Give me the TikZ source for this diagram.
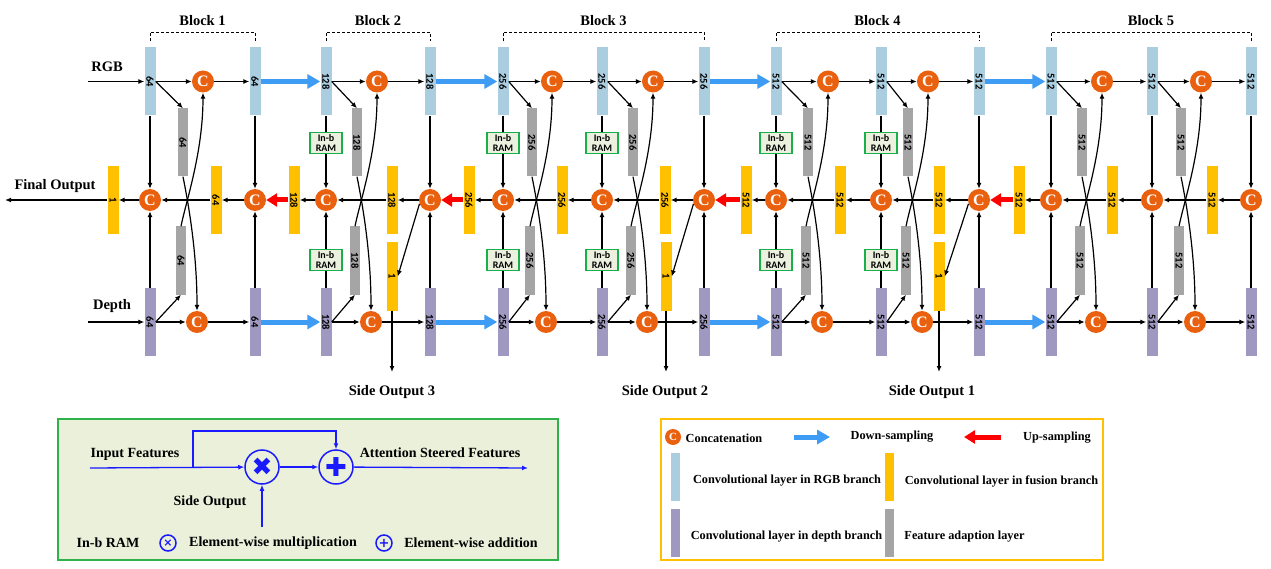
\documentclass[tikz,border=0pt]{standalone}
\usepackage{fontspec}
\setmainfont{Liberation Serif}
\newfontfamily\numfont{Carlito}
\newfontfamily\symfont{DejaVu Sans}
\usepackage{graphicx}
\usetikzlibrary{arrows.meta}
\usetikzlibrary{calc}

\definecolor{rgbc}{HTML}{AACDE0}
\definecolor{depc}{HTML}{9F99C1}
\definecolor{grayc}{HTML}{A5A5A5}
\definecolor{fuc}{HTML}{FFC000}
\definecolor{catc}{HTML}{E9600E}
\definecolor{dsc}{HTML}{3F9CF5}
\definecolor{ramg}{HTML}{19B04C}
\definecolor{ramf}{HTML}{EBF1DE}
\definecolor{lgrn}{HTML}{2DB34A}
\definecolor{lfill}{HTML}{EAF0DA}
\definecolor{lblue}{HTML}{1A1AFF}

\tikzset{
  bar/.style={inner sep=0pt, minimum width=11pt, minimum height=68pt, font=\numfont\bfseries\fontsize{10.5}{11}\selectfont},
  rgbbar/.style={bar, fill=rgbc},
  depbar/.style={bar, fill=depc},
  grbar/.style={bar, fill=grayc, minimum width=10pt},
  fubar/.style={bar, fill=fuc},
  concat/.style={circle, fill=catc, text=white, minimum size=22pt, inner sep=0pt, font=\bfseries\fontsize{16}{16}\selectfont},
  ram/.style={draw=ramg, fill=ramf, line width=1.5pt, minimum width=32pt, minimum height=21pt, inner sep=0pt, align=center, font=\numfont\bfseries\fontsize{10}{9.5}\selectfont},
  arr/.style={-{Latex[length=6pt,width=5pt]}, line width=1.2pt},
  dsarr/.style={dsc, line width=5pt, -{Triangle[length=13pt,width=14pt]}},
  usarr/.style={red, line width=5pt, -{Triangle[length=11pt,width=13pt]}},
  brk/.style={line width=0.8pt, dash pattern=on 3pt off 2pt},
  txt/.style={font=\bfseries\fontsize{14.5}{16}\selectfont},
  ltxt/.style={font=\bfseries\fontsize{14}{16}\selectfont},
  rtxt/.style={font=\bfseries\fontsize{12.3}{14}\selectfont},
  op/.style={circle, draw=lblue, line width=1.5pt, text=lblue, inner sep=0pt},
  barr/.style={lblue, line width=1.3pt, -{Latex[length=6pt,width=5pt]}}
}

\begin{document}
\begin{tikzpicture}[x=1pt, y=-1pt]
  \useasboundingbox[fill=white] (0,0) rectangle (1271,569);

  % columns: RGB bar, depth bar, fusion C
  \foreach \i/\x/\lb in {1/150/64, 2/255/64, 3/326/128, 4/430/128, 5/503/256, 6/602/256, 7/704/256,
                         8/776/512, 9/881/512, 10/979/512, 11/1051/512, 12/1152/512, 13/1251/512}{
    \node[rgbbar] (r\i) at (\x,81.5) {\rotatebox{-90}{\lb}};
    \node[depbar] (d\i) at (\x,322) {\rotatebox{-90}{\lb}};
    \node[concat] (f\i) at (\x,200) {C};
  }

  % vertical links, with and without In-b RAM
  \foreach \i in {1,2,4,7,10,11,12,13}{
    \draw[arr] (r\i) -- (f\i);
    \draw[arr] (d\i) -- (f\i);
  }
  \foreach \i in {3,5,6,8,9}{
    \node[ram] (ra\i) at ($(r\i)+(0,61.5)$) {In-b\\RAM};
    \node[ram] (rb\i) at ($(d\i)+(0,-62)$) {In-b\\RAM};
    \draw[line width=1.2pt] (r\i) -- (ra\i);
    \draw[arr] (ra\i) -- (f\i);
    \draw[line width=1.2pt] (d\i) -- (rb\i);
    \draw[arr] (rb\i) -- (f\i);
  }

  % units inside the blocks
  \foreach \a/\b/\cx/\yx/\lb in {1/2/203/216/64, 3/4/377/392/128, 5/6/552/562/256, 6/7/653/665/256,
                                 8/9/828/840/512, 9/10/928/939/512, 11/12/1102/1112/512, 12/13/1201/1212/512}{
    \node[concat] (cr\a) at (\cx,81.5) {C};
    \node[concat] (cd\a) at (\cx-6,322) {C};
    \node[grbar] (gr\a) at (\cx-20,142.5) {\rotatebox{-90}{\lb}};
    \node[grbar] (gd\a) at (\cx-22,260.5) {\rotatebox{-90}{\lb}};
    \node[fubar] (y\a) at (\yx,200) {\rotatebox{-90}{\lb}};
    \draw[arr] (r\a) -- (cr\a);
    \draw[arr] (cr\a) -- (r\b);
    \draw[arr] (r\a.east) -- (gr\a.north);
    \draw[arr] (d\a) -- (cd\a);
    \draw[arr] (cd\a) -- (d\b);
    \draw[arr] (d\a.east) -- (gd\a.south);
    \draw[arr] (gr\a.south) .. controls +(5,25) and +(0,-60) .. (cd\a.north);
    \draw[arr] (gd\a.north) .. controls +(5,-25) and +(0,60) .. (cr\a.south);
    \draw[arr] (f\b) -- (y\a);
    \draw[arr] (y\a) -- (f\a);
  }

  % between blocks: down-sampling and up-sampling
  \foreach \i/\j/\x/\lb in {2/3/294/128, 4/5/469/256, 7/8/746/512, 10/11/1019/512}{
    \node[fubar] (yb\j) at (\x,200) {\rotatebox{-90}{\lb}};
    \draw[arr] (f\j) -- (yb\j);
    \draw[usarr] (yb\j) -- (f\i);
    \draw[dsarr] (r\i) -- (r\j);
    \draw[dsarr] (d\i) -- (d\j);
  }

  % side outputs
  \foreach \i/\x/\lx/\k in {4/392/392/3, 7/666/665/2, 10/939/932/1}{
    \node[fubar] (s\i) at (\x,276.5) {\rotatebox{-90}{1}};
    \coordinate (so\i) at (\x,372);
    \draw[arr] (f\i.200) -- (s\i.east);
    \draw[arr] (s\i) -- (so\i);
    \node[txt] (sol\i) at (\lx,392) {Side Output \k};
  }

  % blocks
  \foreach \a/\b/\k in {1/2/1, 3/4/2, 5/7/3, 8/10/4, 11/13/5}{
    \draw[brk] ($(r\a.north)+(0,-6)$) |- ($(r\b.north)+(0,-15)$) -- ($(r\b.north)+(0,-6)$);
    \node[txt] (bk\k) at ($(r\a.north)!0.5!(r\b.north)+(0,-27)$) {Block \k};
  }

  % inputs and final output
  \node[fubar] (y0) at (113,200) {\rotatebox{-90}{1}};
  \coordinate (inr) at (88,81.5);
  \coordinate (ind) at (88,322);
  \coordinate (fo) at (5,200);
  \draw[arr] (inr) -- (r1);
  \draw[arr] (ind) -- (d1);
  \draw[arr] (f1) -- (y0);
  \draw[arr] (y0) -- (fo);
  \node[txt] (trgb) at (107,67) {RGB};
  \node[txt] (tdep) at (112,306) {Depth};
  \node[txt] (tfo) at (55,186) {Final Output};

  % legend: In-b RAM
  \draw[draw=lgrn, fill=lfill, line width=2pt] (58,419) rectangle (558,560);
  \coordinate (lin) at (90,468);
  \coordinate (lbr) at (193,468);
  \coordinate (ltop) at (336,431);
  \coordinate (lout) at (528,468);
  \coordinate (lso) at (262,527);
  \node[op, minimum size=34pt, font=\symfont\fontsize{25}{25}\selectfont] (mul) at (262,467) {✖};
  \node[op, minimum size=34pt, font=\symfont\fontsize{26}{26}\selectfont] (add) at (336,467) {✚};
  \draw[barr] (lin) -- (mul);
  \draw[barr] (lbr) |- (ltop) -- (add);
  \draw[barr] (mul) -- (add);
  \draw[barr] (add) -- (lout);
  \draw[barr] (lso) -- (mul);
  \node[ltxt] (tin) at (135,454) {Input Features};
  \node[ltxt] (tatt) at (440,453) {Attention Steered Features};
  \node[ltxt] (tso) at (210,502) {Side Output};
  \node[ltxt] (tram) at (108,543) {In-b RAM};
  \node[op, minimum size=16pt, font=\symfont\bfseries\fontsize{11}{11}\selectfont] (smul) at (168,543) {×};
  \node[ltxt] (tmul) at (273,543) {Element-wise multiplication};
  \node[op, minimum size=16pt, font=\symfont\bfseries\fontsize{13}{13}\selectfont] (sadd) at (384,543) {+};
  \node[ltxt] (tadd) at (471,543) {Element-wise addition};

  % legend: symbols
  \draw[draw=fuc, fill=white, line width=2pt] (661,419) rectangle (1103,560);
  \node[concat, minimum size=16pt, font=\bfseries\fontsize{11}{11}\selectfont] (lc) at (673,437) {C};
  \node[rtxt] (tcat) at (724,438) {Concatenation};
  \coordinate (ds1) at (794,437);
  \coordinate (ds2) at (830,437);
  \draw[dsarr] (ds1) -- (ds2);
  \node[rtxt] (tds) at (892,437) {Down-sampling};
  \coordinate (us1) at (1001,437);
  \coordinate (us2) at (964,437);
  \draw[usarr] (us1) -- (us2);
  \node[rtxt] (tus) at (1057,438) {Up-sampling};
  \node[rgbbar, minimum width=9pt, minimum height=48pt] (lr) at (675,477) {};
  \node[fubar, minimum width=9pt, minimum height=48pt] (ly) at (889,477) {};
  \node[depbar, minimum width=9pt, minimum height=48pt] (ld) at (675,533) {};
  \node[grbar, minimum width=9pt, minimum height=48pt] (lg) at (889,533) {};
  \node[rtxt] (tlr) at (787,481) {Convolutional layer in RGB branch};
  \node[rtxt] (tly) at (1001.5,481) {Convolutional layer in fusion branch};
  \node[rtxt] (tld) at (786.5,537) {Convolutional layer in depth branch};
  \node[rtxt] (tlg) at (964.5,537) {Feature adaption layer};
\end{tikzpicture}
\end{document}
